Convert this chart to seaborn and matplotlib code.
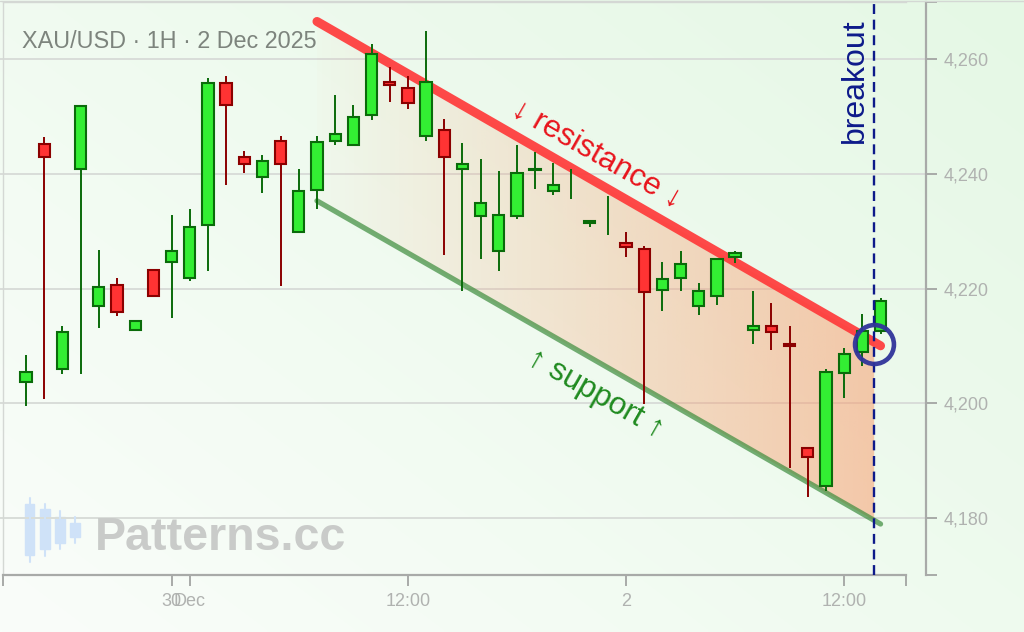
import numpy as np
import matplotlib
matplotlib.use("Agg")
import matplotlib.pyplot as plt
from matplotlib.patches import Polygon, Rectangle
from matplotlib.lines import Line2D
import matplotlib.transforms as mtransforms
import seaborn as sns

# ---------------- data ----------------
opens = [4203.6, 4245.2, 4206.0, 4240.8, 4216.9, 4220.6, 4212.7, 4223.3, 4224.7, 4221.8,
         4231.0, 4255.8, 4243.0, 4239.4, 4245.8, 4229.9, 4237.2, 4245.7, 4245.0, 4250.3,
         4256.1, 4255.0, 4246.7, 4247.6, 4240.8, 4232.7, 4226.5, 4232.7, 4240.6, 4237.0,
         4238.5, 4231.4, 4233.0, 4227.9, 4226.9, 4219.7, 4221.9, 4217.0, 4218.7, 4225.5,
         4212.8, 4213.5, 4210.4, 4192.1, 4185.6, 4205.3, 4209.0, 4212.5]
highs = [4208.4, 4246.5, 4213.4, 4252.1, 4226.8, 4221.9, 4214.5, 4223.3, 4232.8, 4233.8,
         4256.7, 4257.1, 4244.0, 4243.3, 4246.7, 4240.8, 4246.7, 4253.8, 4252.0, 4262.6,
         4258.7, 4257.0, 4265.0, 4249.6, 4245.4, 4242.6, 4240.5, 4245.0, 4243.9, 4241.9,
         4240.8, 4231.9, 4236.2, 4229.9, 4227.4, 4224.7, 4226.5, 4220.9, 4225.4, 4226.5,
         4219.5, 4217.4, 4213.4, 4192.4, 4206.0, 4209.6, 4215.5, 4218.3]
lows = [4199.5, 4200.8, 4205.0, 4205.0, 4213.1, 4215.2, 4212.7, 4218.7, 4214.9, 4221.3,
        4223.0, 4238.1, 4240.2, 4236.7, 4220.4, 4229.9, 4233.8, 4245.1, 4245.0, 4249.4,
        4252.6, 4251.4, 4245.8, 4225.8, 4219.5, 4225.1, 4223.0, 4232.1, 4237.4, 4236.4,
        4235.7, 4230.7, 4229.4, 4225.5, 4199.8, 4216.0, 4219.5, 4215.3, 4217.1, 4224.5,
        4210.4, 4209.3, 4188.6, 4183.6, 4184.7, 4200.9, 4206.5, 4212.1]
closes = [4205.4, 4242.9, 4212.4, 4251.9, 4220.2, 4215.9, 4214.3, 4218.7, 4226.5, 4230.7,
          4255.8, 4252.1, 4241.8, 4242.3, 4241.8, 4237.0, 4245.5, 4246.9, 4250.0, 4260.9,
          4255.5, 4252.4, 4256.0, 4242.9, 4241.7, 4235.0, 4232.8, 4240.2, 4240.9, 4238.1,
          4238.5, 4231.7, 4233.0, 4227.2, 4219.4, 4221.6, 4224.2, 4219.5, 4225.2, 4226.2,
          4213.5, 4212.4, 4209.9, 4190.6, 4205.5, 4208.6, 4212.5, 4217.8]

time_tick_index = [8, 9, 21, 33, 45]
time_tick_labels = ["30", "Dec", "12:00", "2", "12:00"]
price_ticks = [4180, 4200, 4220, 4240, 4260]
price_tick_labels = ["4,180", "4,200", "4,220", "4,240", "4,260"]

resistance_x = [16, 47]
resistance_y = [4266.6, 4210.0]
support_x = [16, 47]
support_y = [4235.3, 4178.9]
breakout_x = 46.65
breakout_price = 4210.3

title = "XAU/USD · 1H · 2 Dec 2025"
resistance_label = "↓ resistance ↓"
support_label = "↑ support ↑"
breakout_label = "breakout"
watermark = "Patterns.cc"

# ---------------- style ----------------
sns.set_theme(style="white")
plt.rcParams['font.family'] = ['Liberation Sans', 'DejaVu Sans']

W, H = 1024, 632
fig = plt.figure(figsize=(W / 100, H / 100), dpi=100)
fig.patch.set_facecolor('#f2fbf2')

# background gradient
bg = fig.add_axes([0, 0, 1, 1], zorder=-5)
u = np.linspace(0, 1, 256)[None, :]
v = np.linspace(1, 0, 160)[:, None]
t = np.clip(0.55 * u + 0.45 * v, 0, 1)
c0 = np.array([250, 253, 250]) / 255
c1 = np.array([229, 248, 229]) / 255
img = c0[None, None, :] * (1 - t[..., None]) + c1[None, None, :] * t[..., None]
bg.imshow(img, aspect='auto', extent=[0, 1, 0, 1], interpolation='bilinear')
bg.axis('off')

x0, x1 = -1.27, 48.4
y0, y1 = 4170, 4270
ax = fig.add_axes([3 / W, 1 - 575 / H, 903 / W, 573 / H], zorder=1)
ax.set_facecolor('none')

# channel fill with horizontal gradient
fx = np.linspace(resistance_x[0], breakout_x, 200)
ftop = np.interp(fx, resistance_x, resistance_y)
fbot = np.interp(fx, support_x, support_y)
verts = list(zip(fx, ftop)) + list(zip(fx[::-1], fbot[::-1]))
poly = Polygon(verts, closed=True, facecolor='none', edgecolor='none')
ax.add_patch(poly)
grad = np.zeros((2, 256, 4))
grad[..., 0:3] = np.array([250, 150, 100]) / 255
grad[..., 3] = np.linspace(0.02, 0.5, 256)[None, :]
im = ax.imshow(grad, extent=[fx[0], fx[-1], y0, y1], aspect='auto', origin='lower',
               zorder=1, interpolation='bilinear')
im.set_clip_path(poly)

# grid lines (extend to the offset y axis)
blend = mtransforms.blended_transform_factory(ax.transAxes, ax.transData)
for p in price_ticks:
    ax.add_line(Line2D([-0.004, 1.0225], [p, p], transform=blend, color='#d9ddd9',
                       lw=1.4, zorder=0.5, clip_on=False))

# trend lines
sns.lineplot(x=support_x, y=support_y, ax=ax, color='#3c8c3c', alpha=0.7, lw=3.8,
             solid_capstyle='round', zorder=2)
sns.lineplot(x=resistance_x, y=resistance_y, ax=ax, color='#ff3a3a', alpha=0.92, lw=6.5,
             solid_capstyle='round', zorder=2)

# candles
for i, (o, h, l, c) in enumerate(zip(opens, highs, lows, closes)):
    up = c >= o
    edge = '#0a6b0a' if up else '#8b0000'
    face = '#33ee33' if up else '#ff3333'
    ax.vlines(i, l, h, color=edge, lw=1.4, zorder=3)
    if c != o:
        ax.bar(i, abs(c - o), bottom=min(o, c), width=0.62, color=face,
               edgecolor=edge, linewidth=1.5, zorder=4)

# breakout marker
ax.axvline(breakout_x, color='#0d1a8a', lw=1.7, ls=(0, (4.2, 2.4)), zorder=5)
ax.plot([breakout_x], [breakout_price], marker='o', ms=28, mfc='none', mec='#30349a',
        mew=3.3, zorder=6, alpha=0.95)

# annotations
ax.text(45.57, 4267.2, breakout_label, rotation=90, ha='center', va='top',
        fontsize=23, color='#0d1a8a', zorder=7)
ax.text(31.39, 4243.3, resistance_label, rotation=-29.7, rotation_mode='anchor',
        ha='center', va='center', fontsize=22.5, color='#e8141c', zorder=7)
ax.text(31.34, 4201.6, support_label, rotation=-29.7, rotation_mode='anchor',
        ha='center', va='center', fontsize=22.5, color='#1f8a1f', zorder=7)

# axes
ax.set_xlim(x0, x1)
ax.set_ylim(y0, y1)
ax.grid(False)
ax.set_xticks(time_tick_index)
ax.set_xticklabels(time_tick_labels)
ax.set_xticks([x0, x1], minor=True)
ax.yaxis.tick_right()
ax.set_yticks(price_ticks)
ax.set_yticklabels(price_tick_labels)
ax.set_yticks([y0, y1], minor=True)
ax.tick_params(axis='both', which='both', direction='out', length=8, width=1.4,
               color='#a8aaa8', labelcolor='#b0b2b0', labelsize=13, pad=5)
ax.tick_params(axis='x', which='both', bottom=True, top=False)
ax.tick_params(axis='y', which='both', right=True, left=False, labelright=True, labelleft=False)
ax.spines['right'].set_position(('outward', 14.4))
ax.spines['right'].set_color('#a8aaa8')
ax.spines['right'].set_linewidth(1.6)
ax.spines['bottom'].set_color('#a8aaa8')
ax.spines['bottom'].set_linewidth(1.6)
ax.spines['top'].set_color('#d4d8d4')
ax.spines['top'].set_linewidth(1.0)
ax.spines['left'].set_color('#d4d8d4')
ax.spines['left'].set_linewidth(1.0)
ax.set_xlabel('')
ax.set_ylabel('')

# top border of the figure
fig.add_artist(Line2D([0, 1], [1 - 1 / H, 1 - 1 / H], transform=fig.transFigure,
                      color='#d4d8d4', lw=1.0))

# title
fig.text(22 / W, 1 - 48 / H, title, fontsize=16.8, color='#7d847d', va='baseline')

# watermark
icon = [(30, 25, 34, 504, 555, 498, 562), (45, 40, 50, 509, 549, 504, 556),
        (60, 55, 65, 517, 543, 511, 549), (75, 70, 80, 523, 537, 517, 543)]
for cx, bx0, bx1, by0, by1, wy0, wy1 in icon:
    fig.add_artist(Line2D([cx / W, cx / W], [1 - wy1 / H, 1 - wy0 / H],
                          transform=fig.transFigure, color='#cfe2f8', lw=1.5))
    fig.add_artist(Rectangle((bx0 / W, 1 - by1 / H), (bx1 - bx0) / W, (by1 - by0) / H,
                             transform=fig.transFigure, color='#cfe2f8'))
fig.text(95 / W, 1 - 550 / H, watermark, fontsize=33.5, fontweight='bold',
         color='#c9cbc9', va='baseline')

fig.savefig('out.png', dpi=100)
